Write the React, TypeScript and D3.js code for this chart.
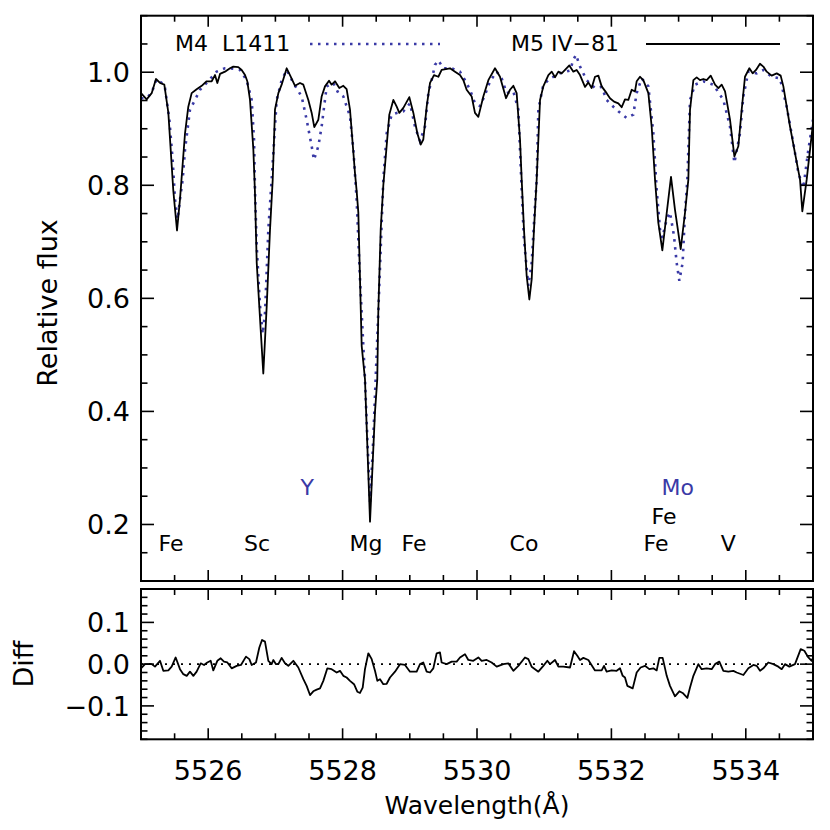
import React from "react";
import * as d3 from "d3";

// M5 IV-81 (solid), wavelength in Angstrom, relative flux
const m5Spec: [number, number][] = [
  [5525.0, 0.963], [5525.084, 0.952], [5525.159, 0.963], [5525.223, 0.988], [5525.283, 0.981],
  [5525.347, 0.978], [5525.407, 0.928], [5525.481, 0.79], [5525.536, 0.72], [5525.58, 0.775],
  [5525.655, 0.892], [5525.704, 0.939], [5525.754, 0.963], [5525.828, 0.97], [5525.903, 0.976],
  [5525.977, 0.984], [5526.052, 0.984], [5526.101, 0.995], [5526.136, 0.981], [5526.176, 0.997],
  [5526.25, 1.001], [5526.324, 1.007], [5526.374, 1.01], [5526.448, 1.009], [5526.498, 1.004],
  [5526.548, 0.995], [5526.582, 0.984], [5526.622, 0.951], [5526.672, 0.863], [5526.695, 0.79],
  [5526.722, 0.663], [5526.781, 0.545], [5526.82, 0.467], [5526.871, 0.587], [5526.92, 0.722],
  [5526.96, 0.81], [5526.994, 0.934], [5527.044, 0.963], [5527.093, 0.978], [5527.168, 1.007],
  [5527.217, 0.995], [5527.292, 0.976], [5527.366, 0.981], [5527.416, 0.978], [5527.49, 0.951],
  [5527.54, 0.928], [5527.579, 0.903], [5527.639, 0.916], [5527.688, 0.957], [5527.738, 0.975],
  [5527.798, 0.985], [5527.837, 0.978], [5527.887, 0.984], [5527.951, 0.972], [5528.011, 0.976],
  [5528.06, 0.97], [5528.11, 0.934], [5528.184, 0.822], [5528.209, 0.79], [5528.234, 0.752],
  [5528.259, 0.634], [5528.284, 0.516], [5528.333, 0.457], [5528.368, 0.34], [5528.408, 0.205],
  [5528.448, 0.31], [5528.482, 0.399], [5528.516, 0.457], [5528.531, 0.575], [5528.567, 0.722],
  [5528.606, 0.8], [5528.695, 0.925], [5528.755, 0.951], [5528.805, 0.939], [5528.844, 0.928],
  [5528.904, 0.937], [5528.993, 0.956], [5529.053, 0.928], [5529.112, 0.892], [5529.162, 0.872],
  [5529.201, 0.881], [5529.251, 0.939], [5529.301, 0.981], [5529.36, 0.995], [5529.425, 0.992],
  [5529.474, 1.004], [5529.598, 1.007], [5529.673, 1.001], [5529.747, 0.995], [5529.797, 0.986],
  [5529.846, 0.969], [5529.921, 0.957], [5529.97, 0.928], [5530.02, 0.921], [5530.094, 0.957],
  [5530.169, 0.986], [5530.268, 1.007], [5530.342, 0.992], [5530.432, 0.954], [5530.491, 0.969],
  [5530.541, 0.976], [5530.59, 0.963], [5530.64, 0.881], [5530.665, 0.81], [5530.699, 0.722],
  [5530.739, 0.64], [5530.779, 0.598], [5530.814, 0.634], [5530.848, 0.722], [5530.888, 0.81],
  [5530.938, 0.951], [5530.987, 0.975], [5531.062, 0.995], [5531.112, 1.001], [5531.161, 0.991],
  [5531.211, 1.001], [5531.26, 0.998], [5531.31, 1.004], [5531.374, 1.012], [5531.434, 1.001],
  [5531.483, 1.004], [5531.533, 0.995], [5531.607, 0.974], [5531.657, 0.982], [5531.706, 0.972],
  [5531.756, 0.992], [5531.806, 0.994], [5531.855, 0.975], [5531.929, 0.963], [5531.979, 0.954],
  [5532.039, 0.948], [5532.103, 0.945], [5532.153, 0.938], [5532.202, 0.952], [5532.252, 0.951],
  [5532.302, 0.969], [5532.351, 0.966], [5532.376, 0.984], [5532.426, 0.992], [5532.475, 0.986],
  [5532.55, 0.963], [5532.599, 0.904], [5532.649, 0.81], [5532.698, 0.734], [5532.758, 0.685],
  [5532.823, 0.751], [5532.887, 0.815], [5532.946, 0.757], [5533.031, 0.687], [5533.095, 0.751],
  [5533.145, 0.81], [5533.17, 0.934], [5533.22, 0.986], [5533.269, 0.991], [5533.319, 0.986],
  [5533.368, 0.988], [5533.418, 0.986], [5533.478, 0.994], [5533.542, 0.978], [5533.592, 0.972],
  [5533.641, 0.978], [5533.691, 0.966], [5533.765, 0.916], [5533.83, 0.851], [5533.889, 0.869],
  [5533.939, 0.934], [5533.988, 0.992], [5534.053, 1.007], [5534.102, 0.998], [5534.152, 1.004],
  [5534.211, 1.015], [5534.261, 1.01], [5534.311, 1.001], [5534.385, 0.994], [5534.46, 0.998],
  [5534.519, 0.994], [5534.559, 0.975], [5534.658, 0.904], [5534.732, 0.857], [5534.807, 0.81],
  [5534.841, 0.754], [5534.906, 0.81], [5535.0, 0.91],
];

// M4 L1411 (dotted)
const m4Spec: [number, number][] = [
  [5525.0, 0.954], [5525.084, 0.954], [5525.159, 0.964], [5525.233, 0.988], [5525.308, 0.981],
  [5525.357, 0.972], [5525.422, 0.916], [5525.471, 0.845], [5525.506, 0.775], [5525.546, 0.74],
  [5525.58, 0.775], [5525.62, 0.81], [5525.655, 0.863], [5525.729, 0.934], [5525.804, 0.951],
  [5525.878, 0.969], [5525.952, 0.978], [5526.027, 0.988], [5526.126, 1.001], [5526.25, 1.007],
  [5526.324, 1.007], [5526.473, 1.004], [5526.572, 0.986], [5526.647, 0.951], [5526.682, 0.881],
  [5526.696, 0.792], [5526.722, 0.692], [5526.771, 0.587], [5526.811, 0.537], [5526.846, 0.575],
  [5526.895, 0.722], [5526.944, 0.81], [5527.019, 0.951], [5527.093, 0.986], [5527.168, 1.004],
  [5527.267, 0.981], [5527.391, 0.957], [5527.465, 0.916], [5527.54, 0.869], [5527.574, 0.845],
  [5527.639, 0.869], [5527.688, 0.904], [5527.763, 0.975], [5527.862, 0.981], [5527.937, 0.963],
  [5528.011, 0.957], [5528.11, 0.922], [5528.16, 0.863], [5528.209, 0.775], [5528.259, 0.634],
  [5528.333, 0.457], [5528.368, 0.352], [5528.408, 0.24], [5528.448, 0.328], [5528.482, 0.428],
  [5528.531, 0.575], [5528.606, 0.81], [5528.656, 0.892], [5528.73, 0.925], [5528.805, 0.928],
  [5528.904, 0.931], [5529.003, 0.945], [5529.077, 0.904], [5529.152, 0.878], [5529.226, 0.904],
  [5529.276, 0.963], [5529.325, 0.986], [5529.375, 1.013], [5529.425, 1.021], [5529.499, 1.007],
  [5529.623, 1.007], [5529.747, 1.001], [5529.821, 0.986], [5529.896, 0.969], [5529.97, 0.945],
  [5530.045, 0.94], [5530.119, 0.96], [5530.194, 0.984], [5530.293, 1.001], [5530.367, 0.989],
  [5530.442, 0.963], [5530.541, 0.966], [5530.615, 0.934], [5530.665, 0.792], [5530.699, 0.704],
  [5530.764, 0.622], [5530.814, 0.663], [5530.863, 0.763], [5530.888, 0.81], [5530.913, 0.934],
  [5530.987, 0.978], [5531.087, 0.989], [5531.235, 0.998], [5531.384, 1.003], [5531.434, 1.022],
  [5531.473, 1.031], [5531.533, 1.01], [5531.632, 0.986], [5531.756, 0.972], [5531.855, 0.974],
  [5531.929, 0.951], [5532.029, 0.939], [5532.103, 0.931], [5532.227, 0.919], [5532.326, 0.925],
  [5532.376, 0.963], [5532.45, 0.989], [5532.55, 0.975], [5532.624, 0.892], [5532.674, 0.792],
  [5532.723, 0.722], [5532.758, 0.707], [5532.823, 0.74], [5532.872, 0.752], [5532.932, 0.71],
  [5532.971, 0.663], [5533.011, 0.631], [5533.06, 0.663], [5533.095, 0.751], [5533.13, 0.81],
  [5533.17, 0.951], [5533.244, 0.978], [5533.368, 0.984], [5533.517, 0.978], [5533.666, 0.951],
  [5533.765, 0.904], [5533.83, 0.84], [5533.914, 0.892], [5533.963, 0.957], [5534.038, 1.001],
  [5534.162, 0.998], [5534.261, 1.004], [5534.385, 0.992], [5534.509, 0.989], [5534.608, 0.939],
  [5534.707, 0.875], [5534.782, 0.822], [5534.856, 0.795], [5534.931, 0.863], [5535.0, 0.916],
];

// difference spectrum (lower panel)
const diffSpec: [number, number][] = [
  [5525.0, -0.01], [5525.06, 0.0], [5525.159, 0.0], [5525.208, -0.006], [5525.283, 0.008],
  [5525.332, -0.016], [5525.407, -0.015], [5525.456, -0.006], [5525.516, 0.016], [5525.58, -0.012],
  [5525.63, -0.024], [5525.68, -0.028], [5525.729, -0.018], [5525.779, -0.028], [5525.828, -0.018],
  [5525.888, 0.002], [5525.938, -0.002], [5525.987, 0.004], [5526.037, 0.008], [5526.076, -0.015],
  [5526.136, 0.008], [5526.186, 0.014], [5526.235, 0.006], [5526.285, 0.004], [5526.349, -0.01],
  [5526.424, -0.004], [5526.488, -0.002], [5526.562, 0.018], [5526.612, 0.012], [5526.647, -0.002],
  [5526.711, 0.004], [5526.761, 0.04], [5526.801, 0.058], [5526.845, 0.054], [5526.895, 0.008],
  [5526.944, 0.0], [5526.969, 0.01], [5527.009, 0.0], [5527.044, 0.0], [5527.093, 0.015],
  [5527.143, 0.002], [5527.192, -0.004], [5527.267, 0.008], [5527.341, -0.008], [5527.416, -0.036],
  [5527.465, -0.052], [5527.515, -0.074], [5527.564, -0.065], [5527.614, -0.061], [5527.664, -0.058],
  [5527.713, -0.04], [5527.773, -0.01], [5527.837, -0.012], [5527.912, -0.02], [5527.961, -0.016],
  [5528.011, -0.028], [5528.06, -0.032], [5528.11, -0.04], [5528.17, -0.048], [5528.219, -0.066],
  [5528.259, -0.069], [5528.299, -0.056], [5528.333, -0.012], [5528.383, 0.026], [5528.433, 0.012],
  [5528.482, -0.016], [5528.517, -0.04], [5528.557, -0.036], [5528.606, -0.048], [5528.656, -0.047],
  [5528.705, -0.032], [5528.78, -0.018], [5528.854, 0.0], [5528.929, -0.002], [5529.003, -0.018],
  [5529.102, -0.018], [5529.152, 0.0], [5529.201, 0.004], [5529.251, -0.018], [5529.301, -0.02],
  [5529.35, -0.01], [5529.4, 0.026], [5529.449, 0.028], [5529.474, 0.004], [5529.549, 0.0],
  [5529.623, 0.006], [5529.697, 0.006], [5529.747, 0.016], [5529.821, 0.024], [5529.871, 0.01],
  [5529.945, 0.008], [5530.02, 0.016], [5530.069, 0.008], [5530.144, 0.01], [5530.218, 0.004],
  [5530.293, -0.006], [5530.392, 0.0], [5530.466, 0.002], [5530.541, -0.016], [5530.615, -0.004],
  [5530.714, 0.016], [5530.764, 0.012], [5530.813, -0.006], [5530.913, -0.018], [5530.987, -0.004],
  [5531.047, 0.008], [5531.087, 0.0], [5531.161, 0.01], [5531.211, -0.006], [5531.285, -0.006],
  [5531.384, -0.008], [5531.444, 0.031], [5531.493, 0.02], [5531.533, 0.01], [5531.583, 0.015],
  [5531.657, 0.01], [5531.756, -0.015], [5531.855, -0.015], [5531.89, -0.004], [5531.929, -0.018],
  [5532.004, -0.015], [5532.078, -0.016], [5532.128, -0.01], [5532.168, -0.028], [5532.202, -0.032],
  [5532.237, -0.052], [5532.317, -0.058], [5532.376, -0.02], [5532.435, -0.008], [5532.5, -0.004],
  [5532.564, -0.012], [5532.624, -0.01], [5532.674, -0.015], [5532.713, 0.015], [5532.763, 0.015],
  [5532.823, -0.028], [5532.872, -0.052], [5532.946, -0.077], [5533.011, -0.065], [5533.06, -0.069],
  [5533.13, -0.081], [5533.17, -0.056], [5533.22, -0.028], [5533.294, 0.0], [5533.343, -0.012],
  [5533.418, -0.01], [5533.492, -0.012], [5533.542, 0.0], [5533.606, 0.006], [5533.666, -0.016],
  [5533.74, -0.018], [5533.815, -0.016], [5533.864, -0.02], [5533.964, -0.026], [5534.038, -0.01],
  [5534.113, -0.002], [5534.162, -0.004], [5534.212, -0.016], [5534.261, -0.01], [5534.335, 0.004],
  [5534.41, 0.0], [5534.484, -0.006], [5534.534, -0.012], [5534.583, 0.0], [5534.648, -0.006],
  [5534.732, 0.0], [5534.817, 0.036], [5534.871, 0.032], [5534.931, 0.016], [5534.98, 0.008],
  [5535.0, 0.016],
];

// line identifications: label, wavelength, flux level, colour key
const lineIds: [string, number, number, string][] = [
  ["Fe", 5525.446, 0.153, "k"], ["Sc", 5526.726, 0.153, "k"], ["Y", 5527.475, 0.252, "b"],
  ["Mg", 5528.348, 0.153, "k"], ["Fe", 5529.063, 0.153, "k"], ["Co", 5530.699, 0.153, "k"],
  ["Mo", 5532.987, 0.252, "b"], ["Fe", 5532.783, 0.2016, "k"], ["Fe", 5532.664, 0.153, "k"],
  ["V", 5533.74, 0.153, "k"],
];

const xLabelTicks = [5526, 5528, 5530, 5532, 5534];
const yLabelTicks = [0.2, 0.4, 0.6, 0.8, 1.0];
const diffLabelTicks = [-0.1, 0.0, 0.1];

const BLUE = "#3a3aa6";
const FONT = "DejaVu Sans";

const App = () => {
  const left = 141, right = 813;
  const top1 = 15.7, bot1 = 581;
  const top2 = 589, bot2 = 739.3;

  const x = d3.scaleLinear().domain([5525, 5535]).range([left, right]);
  const y = d3.scaleLinear().domain([0.1, 1.1]).range([bot1, top1]);
  const yd = d3.scaleLinear().domain([-0.18, 0.18]).range([bot2, top2]);

  const specLine = d3.line<[number, number]>().x(d => x(d[0])).y(d => y(d[1]));
  const diffLine = d3.line<[number, number]>().x(d => x(d[0])).y(d => yd(d[1]));

  const xMinor = x.ticks(20);
  const yMinor = y.ticks(20);
  const ydMinor = yd.ticks(18);
  const isMajor = (v: number, list: number[]) => list.some(t => Math.abs(t - v) < 1e-6);

  // ticks drawn inward on all four sides of a panel
  const frameTicks = (yScale: d3.ScaleLinear<number, number>, yt: number[], ymaj: number[], t: number, b: number) => (
    <g stroke="#000" strokeWidth={1.6}>
      {xMinor.map((v, i) => {
        const L = isMajor(v, xLabelTicks) ? 11 : 6;
        return (
          <g key={"x" + i}>
            <line x1={x(v)} x2={x(v)} y1={b} y2={b - L} />
            <line x1={x(v)} x2={x(v)} y1={t} y2={t + L} />
          </g>
        );
      })}
      {yt.map((v, i) => {
        const L = isMajor(v, ymaj) ? 13 : 6.5;
        return (
          <g key={"y" + i}>
            <line x1={left} x2={left + L} y1={yScale(v)} y2={yScale(v)} />
            <line x1={right} x2={right - L} y1={yScale(v)} y2={yScale(v)} />
          </g>
        );
      })}
    </g>
  );

  return (
    <svg width={830} height={830} style={{ position: "absolute", left: 0, top: 0, background: "#fff" }}>
      <rect width={830} height={830} fill="#fff" />
      <defs>
        <clipPath id="c1"><rect x={left} y={top1} width={right - left} height={bot1 - top1} /></clipPath>
        <clipPath id="c2"><rect x={left} y={top2} width={right - left} height={bot2 - top2} /></clipPath>
      </defs>

      {/* upper panel */}
      <g clipPath="url(#c1)">
        <path d={specLine(m4Spec) ?? ""} fill="none" stroke={BLUE} strokeWidth={2.6} strokeDasharray="2.5 5.5" />
        <path d={specLine(m5Spec) ?? ""} fill="none" stroke="#000" strokeWidth={1.8} strokeLinejoin="round" />
      </g>
      {frameTicks(y, yMinor, yLabelTicks, top1, bot1)}
      <rect x={left} y={top1} width={right - left} height={bot1 - top1} fill="none" stroke="#000" strokeWidth={2} />

      {/* legend */}
      <g fontFamily={FONT} fontSize={22} fill="#000">
        <text x={175} y={51} style={{ whiteSpace: "pre" }}>{"M4  L1411"}</text>
        <line x1={310} x2={440} y1={44} y2={44} stroke={BLUE} strokeWidth={2.6} strokeDasharray="2.5 5.5" />
        <text x={511} y={51}>M5 IV−81</text>
        <line x1={646} x2={780} y1={44} y2={44} stroke="#000" strokeWidth={1.8} />
      </g>

      {/* line identifications */}
      <g fontFamily={FONT} fontSize={22} textAnchor="middle">
        {lineIds.map(([lab, w, f, c], i) => (
          <text key={i} x={x(w)} y={y(f)} fill={c === "b" ? BLUE : "#000"}>{lab}</text>
        ))}
      </g>

      {/* y labels upper */}
      <g fontFamily={FONT} fontSize={27} textAnchor="end">
        {yLabelTicks.map(v => (
          <text key={v} x={130} y={y(v) + 10}>{v.toFixed(1)}</text>
        ))}
      </g>
      <text transform={`translate(57,303) rotate(-90)`} fontFamily={FONT} fontSize={27} textAnchor="middle">Relative flux</text>

      {/* lower panel */}
      <line x1={left} x2={right} y1={yd(0)} y2={yd(0)} stroke="#000" strokeWidth={1.8} strokeDasharray="2 6" />
      <g clipPath="url(#c2)">
        <path d={diffLine(diffSpec) ?? ""} fill="none" stroke="#000" strokeWidth={1.8} strokeLinejoin="round" />
      </g>
      {frameTicks(yd, ydMinor, diffLabelTicks, top2, bot2)}
      <rect x={left} y={top2} width={right - left} height={bot2 - top2} fill="none" stroke="#000" strokeWidth={2} />

      <g fontFamily={FONT} fontSize={27} textAnchor="end">
        {diffLabelTicks.map(v => (
          <text key={v} x={130} y={yd(v) + 10}>{v < 0 ? "−" + Math.abs(v).toFixed(1) : v.toFixed(1)}</text>
        ))}
      </g>
      <text transform={`translate(33,664) rotate(-90)`} fontFamily={FONT} fontSize={27} textAnchor="middle">Diff</text>

      <g fontFamily={FONT} fontSize={27} textAnchor="middle">
        {xLabelTicks.map(v => (
          <text key={v} x={x(v)} y={780}>{v}</text>
        ))}
        <text x={(left + right) / 2} y={814} fontSize={25}>Wavelength(Å)</text>
      </g>
    </svg>
  );
};

export default App;
